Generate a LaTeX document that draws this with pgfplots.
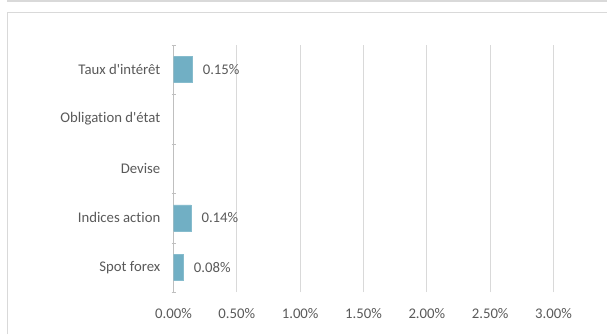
\documentclass[border=0pt]{standalone}
\usepackage{pgfplots}
\pgfplotsset{compat=1.18}
\usepackage{fontspec}
\setmainfont{Carlito}[Ligatures={NoCommon}]
\definecolor{txt}{HTML}{595959}
\definecolor{grd}{HTML}{D9D9D9}
\definecolor{axl}{HTML}{BFBFBF}
\definecolor{barc}{HTML}{71AFC4}
\definecolor{bard}{HTML}{86BCCD}
\begin{document}
\begin{tikzpicture}[x=1bp,y=1bp]
\path[use as bounding box] (0,0) rectangle (607,334);
\draw[grd,line width=1.4bp] (7,333.1) -- (607,333.1);
\draw[grd,line width=1bp] (7,0) -- (7,321) -- (607,321);
\begin{axis}[
  at={(173.5bp,42bp)}, anchor=south west,
  scale only axis, width=380bp, height=247bp,
  xmin=0, xmax=3, ymin=-0.5, ymax=4.5,
  xbar, bar width=26bp,
  font=\fontsize{14.8}{17}\selectfont,
  /pgf/number format/assume math mode=true,
  xtick={0,0.5,1,1.5,2,2.5,3},
  xticklabels={0.00\%,0.50\%,1.00\%,1.50\%,2.00\%,2.50\%,3.00\%},
  ytick={0,1,2,3,4},
  yticklabels={Spot forex,Indices action,Devise,Obligation d\textquotesingle état,Taux d\textquotesingle intérêt},
  minor ytick={-0.5,0.5,1.5,2.5,3.5,4.5},
  major tick length=0pt,
  minor tick length=4bp,
  tick align=outside,
  minor tick style={axl},
  xmajorgrids, major grid style={grd, line width=0.8bp},
  axis lines=left, axis line style={-},
  x axis line style={draw=none},
  y axis line style={axl, line width=0.8bp},
  ticklabel style={text=txt},
  xticklabel style={inner sep=0pt, yshift=-16.5bp},
  yticklabel style={inner sep=0pt, xshift=-13bp},
  point meta=x,
  nodes near coords={\pgfmathprintnumber[fixed,fixed zerofill,precision=2]{\pgfplotspointmeta}\%},
  nodes near coords style={text=txt, anchor=west, inner sep=0pt, xshift=10bp},
]
\addplot[fill=barc, draw=bard, line width=0.6bp] coordinates {
  (0.08,0) (0.14,1) (0.15,4)
};
\end{axis}
\end{tikzpicture}
\end{document}
